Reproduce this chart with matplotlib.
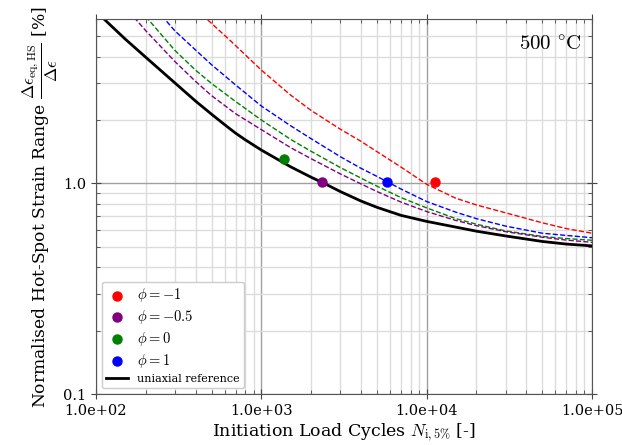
import matplotlib
matplotlib.use("Agg")
import matplotlib.pyplot as plt
from matplotlib.ticker import FuncFormatter, LogLocator, NullFormatter
from matplotlib.lines import Line2D

plt.rcParams['font.family'] = 'DejaVu Serif'
plt.rcParams['mathtext.fontset'] = 'cm'

# uniaxial reference curve (solid black)
ref_n = [100, 150, 200, 300, 400, 500, 600, 700, 800, 1000, 1500, 2000, 2400, 3000, 4000,
         5000, 7000, 10000, 15000, 20000, 30000, 50000, 70000, 100000]
ref_v = [6.55, 4.85, 3.97, 3.0, 2.46, 2.13, 1.9, 1.73, 1.61, 1.44, 1.2, 1.07, 1.0, 0.915, 0.825,
         0.77, 0.705, 0.66, 0.62, 0.593, 0.563, 0.53, 0.515, 0.505]

# dashed curves, one per phi
purple_n = [170, 200, 300, 400, 500, 700, 1000, 1500, 2000, 3000, 4000, 5000, 7000,
            10000, 15000, 20000, 30000, 50000, 70000, 100000]
purple_v = [6.14, 5.31, 3.79, 3.05, 2.61, 2.14, 1.8, 1.48, 1.31, 1.11, 0.995, 0.915, 0.815,
            0.735, 0.667, 0.63, 0.59, 0.555, 0.538, 0.525]

green_n = [200, 300, 400, 500, 700, 1000, 1500, 2000, 3000, 4000, 5000, 7000,
           10000, 15000, 20000, 30000, 50000, 70000, 100000]
green_v = [6.2, 4.28, 3.45, 2.98, 2.445, 2.0, 1.62, 1.42, 1.19, 1.06, 0.97, 0.856,
           0.765, 0.68, 0.64, 0.595, 0.56, 0.547, 0.537]

blue_n = [250, 300, 400, 500, 700, 1000, 1500, 2000, 3000, 4000, 5000, 7000,
          10000, 15000, 20000, 30000, 50000, 70000, 100000]
blue_v = [6.25, 5.3, 4.3, 3.66, 2.93, 2.33, 1.88, 1.63, 1.34, 1.18, 1.08, 0.94,
          0.82, 0.73, 0.68, 0.627, 0.58, 0.566, 0.552]

red_n = [440, 650, 1000, 1500, 2000, 3000, 4000, 5000, 7000,
         10000, 15000, 20000, 30000, 50000, 70000, 100000]
red_v = [6.3, 4.76, 3.45, 2.63, 2.22, 1.81, 1.585, 1.415, 1.195,
         0.99, 0.85, 0.79, 0.725, 0.65, 0.61, 0.58]

# test points
pt_labels = [r'$\phi = -1$', r'$\phi = -0.5$', r'$\phi = 0$', r'$\phi = 1$']
pt_colors = ['red', 'purple', 'green', 'blue']
pt_n = [11220, 2330, 1371, 5760]
pt_v = [1.02, 1.02, 1.31, 1.02]

fig = plt.figure(figsize=(6.22, 4.45), dpi=100)
ax = fig.add_axes([0.1543, 0.1146, 0.7975, 0.8416])

ax.set_xscale('log')
ax.set_yscale('log')
ax.set_xlim(1e2, 1e5)
ax.set_ylim(0.1, 6.0)

ax.grid(True, which='major', color='#a0a0a0', lw=1.0)
ax.grid(True, which='minor', color='#dcdcdc', lw=1.0)
ax.set_axisbelow(True)

ax.plot(red_n, red_v, '--', color='red', lw=1)
ax.plot(blue_n, blue_v, '--', color='blue', lw=1)
ax.plot(green_n, green_v, '--', color='green', lw=1)
ax.plot(purple_n, purple_v, '--', color='purple', lw=1)
ax.plot(ref_n, ref_v, '-', color='black', lw=2)

for n, v, c in zip(pt_n, pt_v, pt_colors):
    ax.plot([n], [v], 'o', color=c, ms=6.5, zorder=5)

handles = [Line2D([], [], marker='o', ls='none', color=c, ms=6.5) for c in pt_colors]
handles.append(Line2D([], [], color='black', lw=2))
leg = ax.legend(handles, pt_labels + ['uniaxial reference'], loc='lower left',
                fontsize=8, framealpha=1, edgecolor='#cccccc', labelspacing=0.35)
for t in leg.get_texts()[:4]:
    t.set_fontsize(10.5)

ax.text(0.98, 0.932, r'$500\ ^{\circ}\mathrm{C}$', transform=ax.transAxes,
        ha='right', va='center', fontsize=15)

ax.xaxis.set_major_formatter(FuncFormatter(lambda v, p: f"{v:.1e}"))
ax.yaxis.set_major_formatter(FuncFormatter(lambda v, p: f"{v:.1f}"))
ax.xaxis.set_minor_formatter(NullFormatter())
ax.yaxis.set_minor_formatter(NullFormatter())
ax.yaxis.set_minor_locator(LogLocator(base=10, subs=range(2, 10)))
ax.tick_params(which='major', direction='inout', length=7, top=True, right=True,
               labelsize=10.5, color='#444444')
ax.tick_params(which='minor', direction='in', length=3, top=True, right=True,
               color='#444444')
for s in ax.spines.values():
    s.set_color('#555555')

ax.set_xlabel(r'Initiation Load Cycles $N_{\mathrm{i,5\%}}$ [-]', fontsize=12.5, labelpad=3)
ax.set_ylabel(r'Normalised Hot-Spot Strain Range $\dfrac{\Delta\epsilon_{\mathrm{eq,HS}}}{\Delta\epsilon}$ [%]',
              fontsize=12.3, labelpad=2)

fig.savefig('out.png', dpi=100)
